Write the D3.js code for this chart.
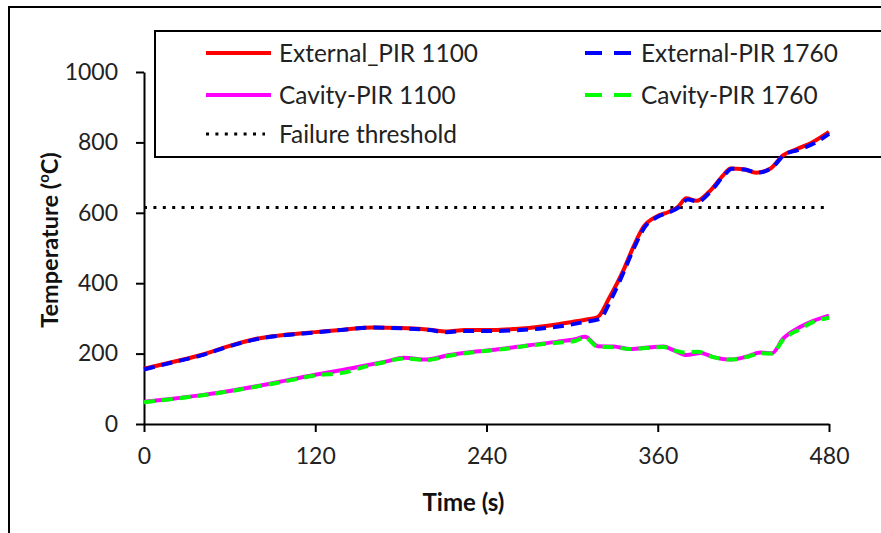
<!DOCTYPE html>
<html>
<head>
<meta charset="utf-8">
<script src="https://cdn.jsdelivr.net/npm/d3@7"></script>
<style>
  body { margin: 0; background: #fff; }
  svg { display: block; font-family: Lato, "Open Sans", sans-serif; }
</style>
</head>
<body>
<div class="chart"></div>
<script>
// [time (s), temperature (C)]
const external1100 = [[0,157],[20,176],[40,196],[60,222],[80,243],[100,254],[120,261],[140,268],[160,274],[180,273],[200,268],[212,263],[225,267],[245,267],[260,270],[280,278],[300,290],[310,297],[318,304],[326,358],[336,437],[343,504],[350,560],[359,589],[368,603],[374,616],[380,641],[387,634],[396,660],[406,707],[411,726],[420,724],[429,714],[439,726],[448,764],[457,780],[469,802],[480,830]];
const external1760 = [[0,155],[20,175],[40,195],[60,221],[80,242],[100,253],[120,260],[140,268],[160,274],[180,272],[200,267],[212,261],[225,264],[245,264],[260,266],[280,272],[300,283],[310,291],[319,298],[328,360],[337,440],[344,506],[351,560],[360,589],[369,603],[375,616],[381,638],[388,632],[397,660],[407,709],[412,725],[421,723],[430,714],[440,728],[449,766],[458,778],[470,798],[480,824]];
const cavity1100 = [[0,63],[20,72],[40,82],[60,94],[80,108],[100,124],[120,140],[140,154],[160,170],[170,178],[182,188],[198,183],[214,196],[231,205],[250,213],[270,224],[290,234],[302,241],[309,248],[318,221],[329,220],[341,213],[355,218],[364,220],[371,210],[380,196],[390,202],[399,190],[411,183],[422,191],[432,203],[440,201],[448,243],[460,276],[469,293],[480,308]];
const cavity1760 = [[0,62],[20,71],[40,81],[60,93],[80,107],[100,122],[120,138],[140,146],[155,163],[170,177],[182,186],[198,182],[214,194],[231,204],[250,212],[270,223],[290,231],[302,236],[309,246],[318,219],[329,218],[341,213],[355,217],[364,219],[371,210],[378,203],[388,205],[399,190],[411,183],[422,190],[432,201],[440,200],[448,240],[460,270],[469,290],[480,302]];
const threshold = [[0,615],[480,615]];

const xTicks = [0, 120, 240, 360, 480];
const yTicks = [0, 200, 400, 600, 800, 1000];

const series = [
  {name: 'External_PIR 1100', values: external1100, color: '#ff0000', dash: null},
  {name: 'External-PIR 1760', values: external1760, color: '#0000ff', dash: '11,7'},
  {name: 'Cavity-PIR 1100', values: cavity1100, color: '#ff00ff', dash: null},
  {name: 'Cavity-PIR 1760', values: cavity1760, color: '#00ff00', dash: '11,7'},
  {name: 'Failure threshold', values: threshold, color: '#000', dash: 'dot'},
];

const W = 881, H = 533;
const margin = {top: 72, right: 52, bottom: 109, left: 144};
const width = W - margin.left - margin.right;
const height = H - margin.top - margin.bottom;

const root = d3.select('.chart').append('svg')
  .attr('width', W)
  .attr('height', H);

// outer chart frame
root.append('rect')
  .attr('x', 9).attr('y', 7)
  .attr('width', 900).attr('height', 560)
  .attr('fill', 'none').attr('stroke', '#000').attr('stroke-width', 2);

function styleLine(sel, s) {
  sel.attr('fill', 'none')
    .attr('stroke', s.color);
  if (s.dash === 'dot') {
    sel.attr('stroke-width', 3).attr('stroke-dasharray', '3,6.4');
  } else {
    sel.attr('stroke-width', 4);
    if (s.dash) sel.attr('stroke-dasharray', s.dash);
  }
}

// legend (sits behind the plotted lines)
const legend = root.append('g');
legend.append('rect')
  .attr('x', 155).attr('y', 31)
  .attr('width', 760).attr('height', 126)
  .attr('fill', '#fff').attr('stroke', '#000').attr('stroke-width', 2);

const legendPos = [
  {x: 206, y: 53}, {x: 585, y: 53},
  {x: 206, y: 95}, {x: 585, y: 95},
  {x: 206, y: 134},
];
series.forEach((s, i) => {
  const p = legendPos[i];
  const len = s.dash === 'dot' ? 59 : (s.dash ? 46 : 65);
  const item = legend.append('g').attr('transform', `translate(${p.x}, ${p.y})`);
  item.append('line')
    .attr('x1', 0).attr('x2', len)
    .attr('y1', 0).attr('y2', 0)
    .call(styleLine, s)
    .attr('stroke-dasharray', s.dash === 'dot' ? '3,6.4' : (s.dash ? '17,12' : null));
  item.append('text')
    .attr('x', s.dash === 'dot' ? 73 : (s.dash ? 56 : 73))
    .attr('y', 0)
    .attr('dy', '0.35em')
    .style('font-size', '24.4px')
    .attr('fill', '#222')
    .text(s.name);
});

const svg = root.append('g')
  .attr('transform', `translate(${margin.left}, ${margin.top})`);

const xScale = d3.scaleLinear().domain([0, 480]).range([0, width]);
const yScale = d3.scaleLinear().domain([0, 1000]).range([height, 0]);

const xAxis = svg.append('g')
  .attr('transform', `translate(0, ${height})`)
  .call(d3.axisBottom(xScale).tickValues(xTicks).tickFormat(d3.format('d'))
    .tickSize(8).tickSizeOuter(0).tickPadding(16));
const yAxis = svg.append('g')
  .call(d3.axisLeft(yScale).tickValues(yTicks).tickFormat(d3.format('d'))
    .tickSize(8).tickSizeOuter(0).tickPadding(18));

[xAxis, yAxis].forEach(ax => {
  ax.select('.domain').attr('stroke', '#000').attr('stroke-width', 2);
  ax.selectAll('.tick line').attr('stroke', '#000').attr('stroke-width', 2);
  ax.selectAll('.tick text')
    .attr('fill', '#222')
    .style('font-size', '23px')
    .style('font-family', 'Lato, sans-serif');
});

const line = d3.line()
  .x(d => xScale(d[0]))
  .y(d => yScale(d[1]))
  .curve(d3.curveMonotoneX);

// draw order: threshold under, then solid, then dashed on top
[4, 0, 1, 2, 3].forEach(i => {
  const s = series[i];
  svg.append('path')
    .datum(s.values)
    .attr('d', line)
    .call(styleLine, s);
});

// axis titles
root.append('text')
  .attr('x', margin.left + width / 2 - 23)
  .attr('y', 511)
  .attr('text-anchor', 'middle')
  .style('font-size', '24px')
  .style('font-weight', 'bold')
  .attr('fill', '#111')
  .text('Time (s)');

const yt = root.append('text')
  .attr('transform', 'translate(58, 240) rotate(-90)')
  .attr('text-anchor', 'middle')
  .style('font-size', '23.5px')
  .style('font-weight', 'bold')
  .attr('fill', '#111');
yt.append('tspan').text('Temperature (');
yt.append('tspan').attr('baseline-shift', 'super').style('font-size', '15px').text('o');
yt.append('tspan').text('C)');
</script>
</body>
</html>
